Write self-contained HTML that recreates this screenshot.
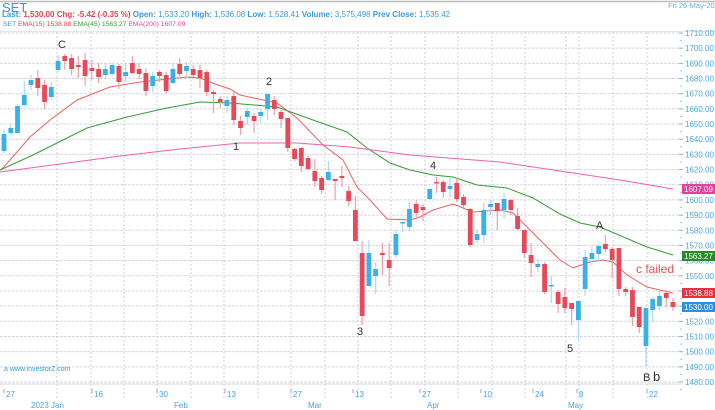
<!DOCTYPE html>
<html><head><meta charset="utf-8"><style>
body{margin:0;background:#fff;width:715px;height:410px;overflow:hidden;font-family:"Liberation Sans",sans-serif}
svg{display:block}
</style></head><body>
<svg id="s" width="715" height="410" xmlns="http://www.w3.org/2000/svg" font-family="Liberation Sans, sans-serif">
<line x1="0" y1="1.5" x2="715" y2="1.5" stroke="#bbb" stroke-width="1.5"/>
<text x="2" y="12" font-size="13" fill="#2a9fdc">SET</text>
<text x="668" y="8" font-size="7.5" fill="#6aaee0">Fri 26-May-202</text>
<text x="2" y="17" font-size="8" font-weight="bold" fill="#3a9ad9"><tspan>Last: </tspan><tspan fill="#e84050">1,530.00 Chg: -5.42 (-0.35 %)</tspan><tspan>  Open: </tspan><tspan font-weight="normal">1,533.20</tspan><tspan> High: </tspan><tspan font-weight="normal">1,536.08</tspan><tspan> Low: </tspan><tspan font-weight="normal">1,528.41</tspan><tspan> Volume: </tspan><tspan font-weight="normal">3,575,498</tspan><tspan>  Prev Close: </tspan><tspan font-weight="normal">1,535.42</tspan></text>
<text x="3" y="26" font-size="6.8" fill="#3a9ad9">SET  <tspan fill="#e84050">EMA(15)  1538.88</tspan>  <tspan fill="#3a9a3a">EMA(45)  1563.27</tspan>  <tspan fill="#e8409a">EMA(200)  1607.09</tspan></text>
<line x1="0" y1="31.5" x2="715" y2="31.5" stroke="#e4e4ea"/>
<g id="grid"></g><g id="ema"></g><g id="c"></g><g id="ax"></g>
<g font-size="11" fill="#333">
<text x="58" y="48">C</text><text x="266" y="85">2</text><text x="233" y="150">1</text><text x="430" y="169">4</text><text x="357" y="335">3</text><text x="567" y="352">5</text><text x="596" y="229">A</text>
<text x="643" y="381">B</text><text x="653" y="381" font-size="13">b</text>
<text x="636" y="273" font-size="12" fill="#e8505a">c failed</text>
</g>
<text x="4" y="371" font-size="7" fill="#3a9ad9">a www.investorZ.com</text>
</svg>
<script>
const NS="http://www.w3.org/2000/svg";
function el(p,t,a,txt){const e=document.createElementNS(NS,t);for(const k in a)e.setAttribute(k,a[k]);if(txt!==undefined)e.textContent=txt;document.getElementById(p).appendChild(e);return e;}
const Y=p=>33+(1710-p)*1.5174;
for(let p=1710;p>=1480;p-=10){const y=Y(p);el('grid','line',{x1:0,y1:y,x2:681,y2:y,stroke:'#d8d8e0','stroke-dasharray':'3,1'});
el('ax','line',{x1:679,y1:y,x2:683,y2:y,stroke:'#9ac'});el('ax','text',{x:685,y:y+3,'font-size':'8',fill:'#4aa6e0'},p.toFixed(2));
el('ax','line',{x1:680,y1:y+7.6,x2:682,y2:y+7.6,stroke:'#bbc'});}
const vx=[57,91,124,157,191,224,258,291,325,358,391,425,458,492,525,566,579,613,647];
vx.forEach(x=>el('grid','line',{x1:x,y1:32,x2:x,y2:400,stroke:'#d0d0d8','stroke-dasharray':'2,2'}));
el('grid','line',{x1:0,y1:384,x2:682,y2:384,stroke:'#d8d8e0'});
const xl=[[4,'27'],[92,'16'],[157,'30'],[225,'13'],[291,'27'],[353,'13'],[420,'27'],[481,'10'],[533,'24'],[577,'8'],[647,'22']];
xl.forEach(a=>{el('ax','line',{x1:a[0],y1:389,x2:a[0],y2:393,stroke:'#9ac'});el('ax','text',{x:a[0]+2,y:397,'font-size':'8',fill:'#4aa6e0'},a[1]);});
[[31,'2023 Jan'],[174,'Feb'],[308,'Mar'],[427,'Apr'],[568,'May']].forEach(a=>el('ax','text',{x:a[0],y:408,'font-size':'8',fill:'#4aa6e0'},a[1]));
[[189,'#e8409a','1607.09'],[256,'#2a8a2a','1563.27'],[293,'#e83040','1538.88'],[307,'#2a90e8','1530.00']].forEach(b=>{
el('ax','rect',{x:682,y:b[0]-5,width:33,height:10,fill:b[1]});el('ax','text',{x:684,y:b[0]+3,'font-size':'8',fill:'#fff'},b[2]);});
const red=[[0,170],[3,168],[30,137],[50,120],[77,100],[110,87],[140,82],[187,77],[200,78],[215,84],[230,89],[240,95],[263,100],[277,103],[297,118],[323,145],[343,160],[357,187],[370,200],[387,219],[410,220],[420,217],[433,210],[453,204],[463,208],[473,212],[500,210],[513,213],[533,233],[560,260],[573,268],[590,262],[603,260],[613,262],[627,275],[647,287],[673,293]];
const grn=[[0,170],[33,155],[57,143],[87,128],[127,117],[167,108],[200,102],[230,103],[277,107],[313,120],[347,132],[367,148],[390,163],[410,170],[433,175],[453,177],[477,185],[507,188],[533,198],[560,214],[580,223],[600,227],[647,247],[673,255]];
const mag=[[0,172],[60,164],[120,156],[180,149],[240,143],[297,143],[350,147],[410,155],[500,162],[580,174],[620,180],[673,189]];
[[red,'#f06060'],[grn,'#3a9a3a'],[mag,'#f060b0']].forEach(l=>el('ema','polyline',{points:l[0].map(p=>p.join(',')).join(' '),fill:'none',stroke:l[1],'stroke-width':1}));
const C=[[134,151,130,153,1],[128,133,124,135,1],[106,133,104,134,1],[95,105,81,107,1],[80,85,75,90,1],[78,88,70,96,0],[85,102,80,109,0],[87,97,82,100,1],[61,70,55,72,1],[56,61,54,70,0],[58,69,54,75,0],[65,67,56,78,0],[60,76,53,86,0],[68,71,60,80,0],[69,77,63,83,0],[69,75,63,79,1],[65,74,63,76,1],[66,82,64,89,0],[72,76,63,82,1],[63,73,56,74,0],[69,74,63,79,0],[73,91,68,96,0],[76,86,72,92,1],[72,76,70,82,0],[75,91,72,93,0],[69,83,63,84,1],[64,74,58,76,0],[66,71,62,76,1],[69,75,65,77,0],[70,78,65,88,0],[72,92,70,96,0],[92,94,90,113,0],[99,102,96,108,0],[100,106,96,113,1],[96,120,92,125,0],[121,128,116,135,0],[111,117,108,125,1],[116,121,113,133,0],[112,116,109,123,1],[94,109,94,120,1],[100,109,96,115,0],[112,119,110,128,0],[118,148,118,152,0],[149,159,148,161,0],[148,166,147,172,0],[158,169,156,170,0],[171,181,159,187,0],[178,190,176,194,0],[172,180,161,181,1],[179,181,179,200,0],[176,178,166,187,0],[191,201,186,206,0],[210,241,196,241,0],[253,316,241,325,0],[253,286,240,286,1],[269,276,262,294,1],[253,255,243,275,0],[260,268,243,286,0],[234,255,230,258,1],[222,223,222,232,1],[209,227,202,231,1],[204,213,200,218,0],[207,210,204,221,0],[189,199,188,200,1],[182,183,177,193,0],[182,192,180,198,0],[186,189,178,197,1],[183,199,178,202,0],[197,205,194,208,0],[209,245,208,247,0],[234,240,230,243,1],[210,235,203,243,1],[204,207,200,215,1],[203,211,203,230,0],[199,210,193,219,1],[200,210,199,215,0],[216,229,208,230,0],[230,253,230,258,0],[255,263,243,277,0],[264,267,259,272,1],[264,292,262,294,0],[285,286,276,303,1],[292,304,290,313,0],[297,308,288,313,0],[303,309,303,325,0],[301,320,301,340,1],[257,289,250,296,1],[253,259,246,265,1],[246,254,244,262,1],[244,249,235,252,0],[249,260,247,278,0],[248,289,248,296,0],[289,292,287,296,0],[290,317,287,326,0],[307,327,307,333,0],[308,346,308,366,1],[299,310,297,322,1],[296,306,290,310,1],[293,298,290,307,0],[302,307,298,311,0]];
const n=C.length;
C.forEach((c,i)=>{const x=4+i*(669/(n-1));const col=c[4]?'#3ab0e8':'#e84858';const wc=c[4]?'#a8dcf4':'#f0a0a8';
el('c','line',{x1:x,y1:c[2],x2:x,y2:c[3],stroke:wc,'stroke-width':1.2});
el('c','rect',{x:x-2.4,y:c[0],width:4.8,height:Math.max(1.5,c[1]-c[0]),fill:col});});
</script>
</body></html>
